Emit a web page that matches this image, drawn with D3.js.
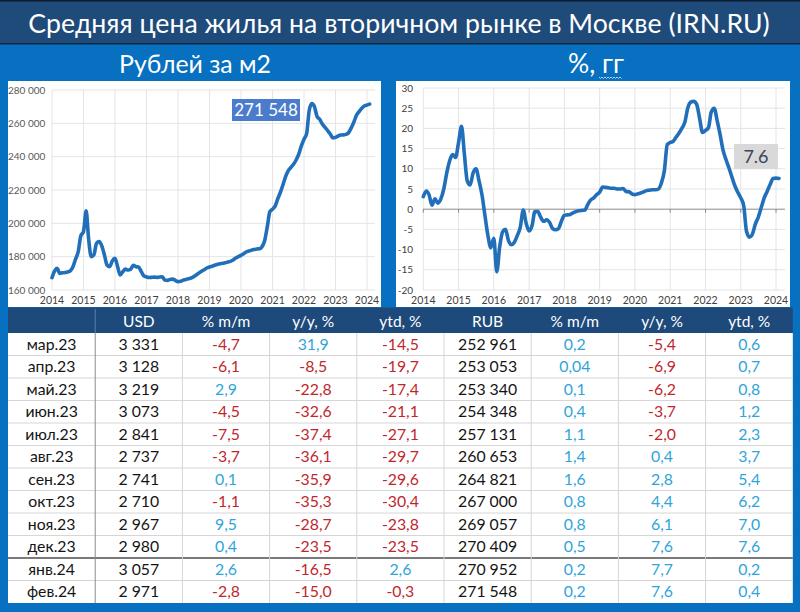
<!DOCTYPE html>
<html><head><meta charset="utf-8">
<script src="https://cdn.jsdelivr.net/npm/d3@7"></script>
<style>
body{margin:0;background:#0870c0}
svg{display:block}
text{font-family:Lato,"Open Sans",sans-serif}
</style>
</head><body>
<svg id="c" width="800" height="612"></svg>
<script>
// ---------- DATA ----------
const titleText = "Средняя цена жилья на вторичном рынке в Москве (IRN.RU)";
const leftSubtitle = "Рублей за м2";
const rightSubtitle = "%, гг";
const yearLabels = ["2014","2015","2016","2017","2018","2019","2020","2021","2022","2023","2024"];
const priceTicks = [160000,180000,200000,220000,240000,260000,280000];
const yoyTicks = [-20,-15,-10,-5,0,5,10,15,20,25,30];
// monthly, Jan 2014 .. Feb 2024 (RUB per m2)
const priceRub = [
 167400,171500,173000,170000,170300,170500,170800,171500,174000,178500,183000,192500,
 195000,207500,191000,180000,181000,188000,189000,186500,181000,175000,174000,177500,
 179000,174000,169000,171000,172500,172000,172500,174800,174000,173800,171000,168500,
 167800,167500,167600,167700,167600,167800,167900,166000,165800,166300,166500,165800,
 165000,165200,165900,166300,166800,167200,168000,169000,170300,171300,172200,173200,
 173800,174300,174800,175300,175700,176000,176300,176800,177200,178000,179200,180000,
 180800,181800,182800,183400,183900,184300,184600,184700,186000,189500,198000,207000,
 208500,210500,214500,218500,223000,228000,231500,233500,235500,238000,241500,246500,
 250500,254000,267400,271800,270100,264100,262400,259600,257600,255700,253600,251300,
 251600,252400,252961,253053,253340,254348,257131,260653,264821,267000,269057,270409,
 270952,271548
];
// monthly, Jan 2014 .. Feb 2024 (% y/y)
const yoyPct = [
 3.1,4.5,3.6,1.0,2.6,1.5,2.5,5.0,9.0,12.0,13.5,12.8,
 16.5,20.5,14.0,7.0,6.0,9.0,10.0,7.0,3.5,-1.5,-6.5,-9.5,
 -7.2,-15.5,-9.5,-5.6,-5.0,-7.8,-8.8,-8.2,-6.5,-4.5,-0.2,-3.5,
 -5.4,-4.0,-0.6,-0.6,-2.0,-3.0,-2.6,-3.3,-4.8,-5.1,-4.8,-3.0,
 -1.5,-1.4,-1.3,-0.9,-0.6,-0.4,-0.3,-0.2,1.2,2.3,2.8,3.6,
 4.2,5.5,5.4,5.3,5.2,5.2,5.0,5.0,5.1,4.4,4.3,3.8,
 3.6,3.8,4.0,4.3,4.6,4.7,4.8,4.8,5.0,6.5,9.5,16.0,
 16.5,16.8,17.8,18.8,20.0,21.5,25.0,26.5,26.7,26.0,22.5,19.0,
 19.5,20.2,24.0,25.0,22.0,18.5,14.7,12.3,10.2,8.0,5.8,4.2,
 2.8,0.8,-5.4,-6.9,-6.2,-3.7,-2.0,0.4,2.8,4.4,6.1,7.6,
 7.7,7.6
];
const tableHeaders = ["","USD","% m/m","y/y, %","ytd, %","RUB","% m/m","y/y, %","ytd, %"];
const tableMonths = ["мар.23","апр.23","май.23","июн.23","июл.23","авг.23","сен.23","окт.23","ноя.23","дек.23","янв.24","фев.24"];
const usd      = [3331,3128,3219,3073,2841,2737,2741,2710,2967,2980,3057,2971];
const usdMoM   = [-4.7,-6.1,2.9,-4.5,-7.5,-3.7,0.1,-1.1,9.5,0.4,2.6,-2.8];
const usdYoY   = [31.9,-8.5,-22.8,-32.6,-37.4,-36.1,-35.9,-35.3,-28.7,-23.5,-16.5,-15.0];
const usdYtd   = [-14.5,-19.7,-17.4,-21.1,-27.1,-29.7,-29.6,-30.4,-23.8,-23.5,2.6,-0.3];
const rub      = [252961,253053,253340,254348,257131,260653,264821,267000,269057,270409,270952,271548];
const rubMoM   = [0.2,0.04,0.1,0.4,1.1,1.4,1.6,0.8,0.8,0.5,0.2,0.2];
const rubYoY   = [-5.4,-6.9,-6.2,-3.7,-2.0,0.4,2.8,4.4,6.1,7.6,7.7,7.6];
const rubYtd   = [0.6,0.7,0.8,1.2,2.3,3.7,5.4,6.2,7.0,7.6,0.2,0.4];
const lastPriceLabel = "271 548";
const lastYoyLabel = "7.6";

// ---------- DRAW ----------
const svg = d3.select("#c");
const loc = d3.formatLocale({decimal:",", thousands:" ", grouping:[3], currency:["",""]});
const fmtInt = loc.format(",d");
const fmtPct = v => {
  const s = (Math.abs(v*10 - Math.round(v*10)) > 1e-9) ? v.toFixed(2) : v.toFixed(1);
  return s.replace(".", ",");
};
const months = d3.range(priceRub.length).map(i => new Date(2014, i, 1));
const yearDates = yearLabels.map(y => new Date(+y, 0, 1));

svg.append("rect").attr("width",800).attr("height",612).attr("fill","#0870c0");
// title band
svg.append("rect").attr("x",0).attr("y",0).attr("width",800).attr("height",44).attr("fill","#1f4b7b");
svg.append("rect").attr("x",0).attr("y",0).attr("width",800).attr("height",1.5).attr("fill","#0b1a2c");
svg.append("rect").attr("x",0).attr("y",43).attr("width",800).attr("height",1.5).attr("fill","#10253e");

function fitText(sel, target){
  const w = sel.node().getComputedTextLength();
  const fs = parseFloat(sel.attr("font-size"));
  sel.attr("font-size", fs*target/w);
}
const tt = svg.append("text").attr("x",399).attr("y",33).attr("text-anchor","middle")
  .attr("fill","#fff").attr("font-size",26).text(titleText);
fitText(tt, 742);

const st1 = svg.append("text").attr("x",195).attr("y",73).attr("text-anchor","middle")
  .attr("fill","#fff").attr("font-size",24).text(leftSubtitle);
fitText(st1, 152);
const st2 = svg.append("text").attr("x",596).attr("y",73).attr("text-anchor","middle")
  .attr("fill","#fff").attr("font-size",24).text(rightSubtitle);
fitText(st2, 56);
// spell-check squiggle
svg.append("path").attr("d", "M599,77 l1.5,1.5 l1.5,-1.5 l1.5,1.5 l1.5,-1.5 l1.5,1.5 l1.5,-1.5 l1.5,1.5 l1.5,-1.5 l1.5,1.5 l1.5,-1.5 l1.5,1.5 l1.5,-1.5 l1.5,1.5 l1.5,-1.5 l1.5,1.5")
  .attr("fill","none").attr("stroke","#b7cde6").attr("stroke-width",1);

// panels
svg.append("rect").attr("x",8).attr("y",81).attr("width",373).attr("height",226).attr("fill","#fff");
svg.append("rect").attr("x",396).attr("y",81).attr("width",394).attr("height",226).attr("fill","#fff");

const lineColor = "#206fb8";
const gridColor = "#e4e4e4";

// ----- left chart -----
{
  const x = d3.scaleTime().domain([yearDates[0], yearDates[yearDates.length-1]]).range([52, 367]);
  const y = d3.scaleLinear().domain([160000, 280000]).range([290, 90]);
  const g = svg.append("g");
  g.selectAll(".hg").data(priceTicks).join("line")
    .attr("x1",52).attr("x2",375).attr("y1",d=>y(d)).attr("y2",d=>y(d))
    .attr("stroke",gridColor).attr("stroke-width",1);
  g.selectAll(".vg").data(yearDates).join("line")
    .attr("x1",d=>x(d)).attr("x2",d=>x(d)).attr("y1",y(280000)).attr("y2",y(160000))
    .attr("stroke",gridColor).attr("stroke-width",1);
  g.selectAll(".yl").data(priceTicks).join("text")
    .attr("x",8).attr("y",d=>y(d)+3.5).attr("font-size",10).attr("fill","#595959")
    .text(d=>fmtInt(d));
  g.selectAll(".xl").data(yearDates).join("text")
    .attr("x",d=>x(d)).attr("y",304).attr("text-anchor","middle").attr("font-size",10.5).attr("fill","#404040")
    .text((d,i)=>yearLabels[i]);
  const line = d3.line().x((d,i)=>x(months[i])).y(d=>y(d)).curve(d3.curveMonotoneX);
  g.append("path").datum(priceRub).attr("d",line).attr("fill","none")
    .attr("stroke",lineColor).attr("stroke-width",3.6).attr("stroke-linejoin","round").attr("stroke-linecap","round");
  g.append("rect").attr("x",232).attr("y",99).attr("width",68).attr("height",22).attr("fill","#4b7ccc");
  g.append("text").attr("x",266).attr("y",116).attr("text-anchor","middle").attr("font-size",17)
    .attr("fill","#fff").text(lastPriceLabel);
}

// ----- right chart -----
{
  const x = d3.scaleTime().domain([yearDates[0], yearDates[yearDates.length-1]]).range([423.3, 776]);
  const y = d3.scaleLinear().domain([-20, 30]).range([290, 88]);
  const g = svg.append("g");
  g.selectAll(".hg").data(yoyTicks.filter(d=>d!==0)).join("line")
    .attr("x1",423).attr("x2",785).attr("y1",d=>y(d)).attr("y2",d=>y(d))
    .attr("stroke",gridColor).attr("stroke-width",1);
  g.selectAll(".vg").data(yearDates).join("line")
    .attr("x1",d=>x(d)).attr("x2",d=>x(d)).attr("y1",y(30)).attr("y2",y(-20))
    .attr("stroke",gridColor).attr("stroke-width",1);
  g.append("line").attr("x1",423).attr("x2",785).attr("y1",y(0)).attr("y2",y(0))
    .attr("stroke","#8a8a8a").attr("stroke-width",1);
  g.selectAll(".tk").data(yearDates).join("line")
    .attr("x1",d=>x(d)).attr("x2",d=>x(d)).attr("y1",y(0)).attr("y2",y(0)+3.5)
    .attr("stroke","#8a8a8a").attr("stroke-width",1);
  g.selectAll(".yl").data(yoyTicks).join("text")
    .attr("x",413).attr("y",d=>y(d)+3.5).attr("text-anchor","end").attr("font-size",10).attr("fill","#404040")
    .text(d=>d);
  g.selectAll(".xl").data(yearDates).join("text")
    .attr("x",d=>x(d)).attr("y",304).attr("text-anchor","middle").attr("font-size",10.5).attr("fill","#404040")
    .text((d,i)=>yearLabels[i]);
  const line = d3.line().x((d,i)=>x(months[i])).y(d=>y(d)).curve(d3.curveMonotoneX);
  g.append("path").datum(yoyPct).attr("d",line).attr("fill","none")
    .attr("stroke",lineColor).attr("stroke-width",3.6).attr("stroke-linejoin","round").attr("stroke-linecap","round");
  g.append("rect").attr("x",734).attr("y",144).attr("width",44).attr("height",25).attr("fill","#d9d9d9");
  g.append("text").attr("x",756).attr("y",162.5).attr("text-anchor","middle").attr("font-size",18)
    .attr("fill","#3a4556").text(lastYoyLabel);
}

// ----- table -----
{
  const tx = 8, colW = 87.2, headY = 309, headH = 24, rowH = 22.5;
  const bodyY = headY + headH;
  const nRows = tableMonths.length;
  const red = "#c0272d", blue = "#2fa4d9", black = "#141414";
  const g = svg.append("g");
  g.append("rect").attr("x",tx).attr("y",headY-1.5).attr("width",colW*9).attr("height",headH+1.5).attr("fill","#1e4a7b");
  g.append("rect").attr("x",tx).attr("y",bodyY).attr("width",colW*9).attr("height",rowH*nRows).attr("fill","#fff");
  g.append("line").attr("x1",tx+colW).attr("x2",tx+colW).attr("y1",headY).attr("y2",bodyY)
    .attr("stroke","#5d7fa6").attr("stroke-width",1);
  g.selectAll(".hd").data(tableHeaders).join("text")
    .attr("x",(d,i)=>tx+colW*(i+0.5)).attr("y",headY+17.5).attr("text-anchor","middle")
    .attr("font-size",15.5).attr("fill","#fff").text(d=>d);
  for(let r=1;r<nRows;r++){
    g.append("line").attr("x1",tx).attr("x2",tx+colW*9).attr("y1",bodyY+r*rowH).attr("y2",bodyY+r*rowH)
      .attr("stroke", r===10 ? "#7a7a7a" : "#d6d6d6").attr("stroke-width", r===10 ? 2 : 1);
  }
  for(let c=1;c<9;c++){
    g.append("line").attr("x1",tx+c*colW).attr("x2",tx+c*colW).attr("y1",bodyY).attr("y2",bodyY+nRows*rowH)
      .attr("stroke", c===1 ? "#8c8c8c" : "#d6d6d6").attr("stroke-width",1);
  }
  const cols = [
    {v:tableMonths, f:d=>d, c:()=>black},
    {v:usd, f:fmtInt, c:()=>black},
    {v:usdMoM, f:fmtPct, c:d=>d<0?red:blue},
    {v:usdYoY, f:fmtPct, c:d=>d<0?red:blue},
    {v:usdYtd, f:fmtPct, c:d=>d<0?red:blue},
    {v:rub, f:fmtInt, c:()=>black},
    {v:rubMoM, f:fmtPct, c:d=>d<0?red:blue},
    {v:rubYoY, f:fmtPct, c:d=>d<0?red:blue},
    {v:rubYtd, f:fmtPct, c:d=>d<0?red:blue}
  ];
  cols.forEach((col,ci)=>{
    g.selectAll(".c"+ci).data(col.v).join("text")
      .attr("x",tx+colW*(ci+0.5)).attr("y",(d,ri)=>bodyY+ri*rowH+16.5)
      .attr("text-anchor","middle").attr("font-size",15.8).attr("fill",d=>col.c(d)).text(d=>col.f(d));
  });
}
</script>
</body></html>
